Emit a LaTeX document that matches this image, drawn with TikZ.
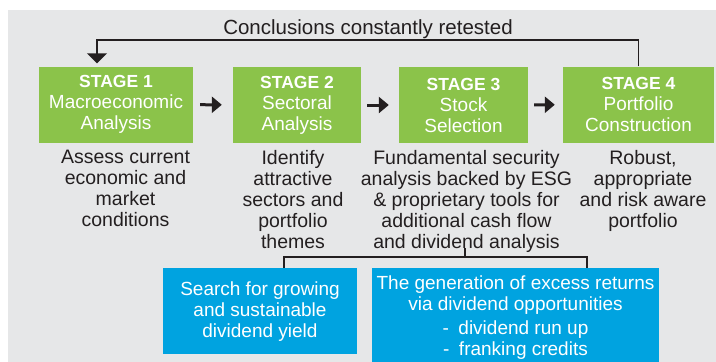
\documentclass[tikz,border=0pt]{standalone}
\usepackage{fontspec}
\setmainfont{Liberation Sans}
\usetikzlibrary{arrows.meta}
\definecolor{bggray}{HTML}{E6E7E8}
\definecolor{stgreen}{HTML}{8BC34A}
\definecolor{boxblue}{HTML}{00A3E0}
\definecolor{txt}{HTML}{231F20}
\begin{document}
\begin{tikzpicture}[x=1pt,y=-1pt,
  stagebox/.style={fill=stgreen, text=white, minimum width=#1, minimum height=76pt,
    inner sep=0pt, align=center, font=\fontsize{19}{21}\selectfont},
  desc/.style={text=txt, inner sep=0pt, anchor=north, align=center,
    font=\fontsize{19.5}{21}\selectfont},
  bluebox/.style={fill=boxblue, text=white, align=center, inner xsep=0pt,
    font=\fontsize{19}{21}\selectfont},
  steparrow/.style={line width=3pt, txt, -{Triangle[length=10pt,width=16pt]},
    shorten <=7pt, shorten >=11pt},
  connline/.style={line width=1.8pt, txt},
]
\useasboundingbox (0,0) rectangle (716,362);
\fill[white] (0,0) rectangle (716,362);
\fill[bggray] (8,10) rectangle (716,362);

% stages
\node[stagebox=154pt] (s1) at (116,104.5) {{\bfseries\fontsize{17.5}{21}\selectfont STAGE 1}\\Macroeconomic\\Analysis};
\node[stagebox=128pt] (s2) at (297,105) {{\bfseries\fontsize{17.5}{21}\selectfont STAGE 2}\\Sectoral\\Analysis};
\node[stagebox=129pt] (s3) at (463.5,105) {{\bfseries\fontsize{17.5}{21}\selectfont STAGE 3}\\Stock\\Selection};
\node[stagebox=151pt] (s4) at (638.5,104.5) {{\bfseries\fontsize{17.5}{21}\selectfont STAGE 4}\\Portfolio\\Construction};

\draw[steparrow] (s1) -- (s2);
\draw[steparrow, shorten <=6pt, shorten >=10pt] (s2) -- (s3);
\draw[steparrow, shorten <=6pt, shorten >=8pt] (s3) -- (s4);

% feedback loop
\node[text=txt, inner sep=0pt, anchor=base, font=\fontsize{20.5}{22}\selectfont] (concl) at (368,34) {Conclusions constantly retested};
\coordinate (fb) at (97,40);
\draw[connline, -{Triangle[length=10pt,width=20pt]}, shorten >=3pt]
  (s4.north) |- (fb) -- (fb |- s1.north);

% descriptions
\node[desc] (d1) at (125.5,150) {Assess current\\economic and\\market\\conditions};
\node[desc] (d2) at (293,150) {Identify\\attractive\\sectors and\\portfolio\\themes};
\node[desc] (d3) at (466.5,150) {Fundamental security\\analysis backed by ESG\\\& proprietary tools for\\additional cash flow\\and dividend analysis};
\node[desc] (d4) at (643,150) {Robust,\\appropriate\\and risk aware\\portfolio};

% blue boxes
\node[bluebox, anchor=north, minimum width=194pt, minimum height=86pt] (b1) at (260,268) {Search for growing\\and sustainable\\dividend yield};
\node[bluebox, anchor=north, minimum width=287pt, minimum height=98pt, inner ysep=4.5pt] (b2) at (515.5,268)
  {The generation of excess returns\\via dividend opportunities\\[3pt]-\enspace dividend run up\\-\enspace franking credits};

% bracket
\coordinate (bt) at (465,248);
\coordinate (bm) at (465,257);
\coordinate (bl) at (284,257);
\coordinate (br) at (587,257);
\draw[connline] (bt) -- (bm);
\draw[connline] (bl |- b1.north) -- (bl) -- (br) -- (br |- b2.north);
\end{tikzpicture}
\end{document}
